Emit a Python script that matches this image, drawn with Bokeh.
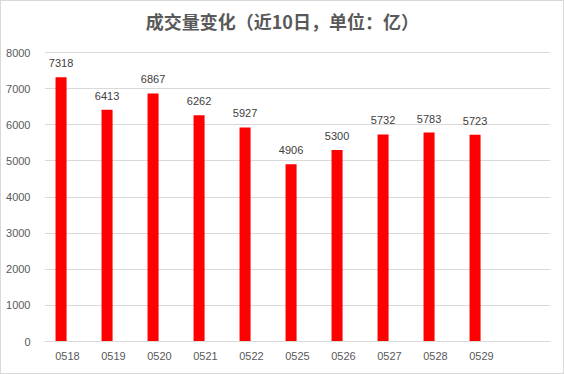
from bokeh.plotting import figure
from bokeh.models import ColumnDataSource, FactorRange, Range1d, FixedTicker, Label
from bokeh.transform import dodge
from bokeh.core.properties import value
from bokeh.embed import file_html
from bokeh.resources import INLINE

dates = ["0518", "0519", "0520", "0521", "0522", "0525", "0526", "0527", "0528", "0529"]
volumes = [7318, 6413, 6867, 6262, 5927, 4906, 5300, 5732, 5783, 5723]
y_ticks = [0, 1000, 2000, 3000, 4000, 5000, 6000, 7000, 8000]
title_text = "成交量变化（近10日，单位：亿）"

factors = dates + [" "]
src = ColumnDataSource(dict(x=dates, y=volumes, label=[str(v) for v in volumes]))

# frame spans from near the canvas top so the title can sit inside it
frame_top, frame_bottom, top_grid, title_y_px = 10, 341, 52, 20.5
y_end = 8000 * (frame_bottom - frame_top) / (frame_bottom - top_grid)
title_y = y_end * (frame_bottom - title_y_px) / (frame_bottom - frame_top)

p = figure(width=564, height=374, x_range=FactorRange(*factors, range_padding=0),
           y_range=Range1d(0, y_end), output_backend="svg", toolbar_location=None,
           min_border_left=43, min_border_right=15, min_border_top=frame_top - 1,
           min_border_bottom=34)
p.outline_line_color = None
p.background_fill_color = "white"
p.border_fill_color = "white"
p.styles = {"border": "1px solid #d9d9d9", "box-sizing": "border-box"}

p.add_layout(Label(x=5.17, y=title_y, text=title_text, text_align="center",
                   text_baseline="middle", text_font="Noto Sans CJK SC",
                   text_font_size="18px", text_font_style="bold", text_color="#595959"))

p.vbar(x=dodge("x", -0.14, range=p.x_range), top="y", width=0.24, source=src,
       fill_color="#ff0000", line_color=None)
p.text(x=dodge("x", -0.14, range=p.x_range), y="y", text="label", source=src,
       y_offset=-10, text_align="center", text_baseline="bottom",
       text_font=value("Liberation Sans"), text_font_size="11px", text_color="#404040")

p.xgrid.grid_line_color = None
p.ygrid.grid_line_color = "#d9d9d9"
p.yaxis.ticker = FixedTicker(ticks=y_ticks)
p.yaxis.axis_line_color = None
p.yaxis.major_tick_line_color = None
p.yaxis.minor_tick_line_color = None
p.yaxis.major_label_text_font = "Liberation Sans"
p.yaxis.major_label_text_font_size = "11px"
p.yaxis.major_label_text_color = "#595959"
p.yaxis.major_label_standoff = 8

p.xaxis.axis_line_color = "#d9d9d9"
p.xaxis.major_tick_line_color = None
p.xaxis.minor_tick_line_color = None
p.xaxis.major_label_text_font = "Liberation Sans"
p.xaxis.major_label_text_font_size = "11px"
p.xaxis.major_label_text_color = "#595959"
p.xaxis.major_label_standoff = 2

open("out.html", "w").write(file_html(p, INLINE))
